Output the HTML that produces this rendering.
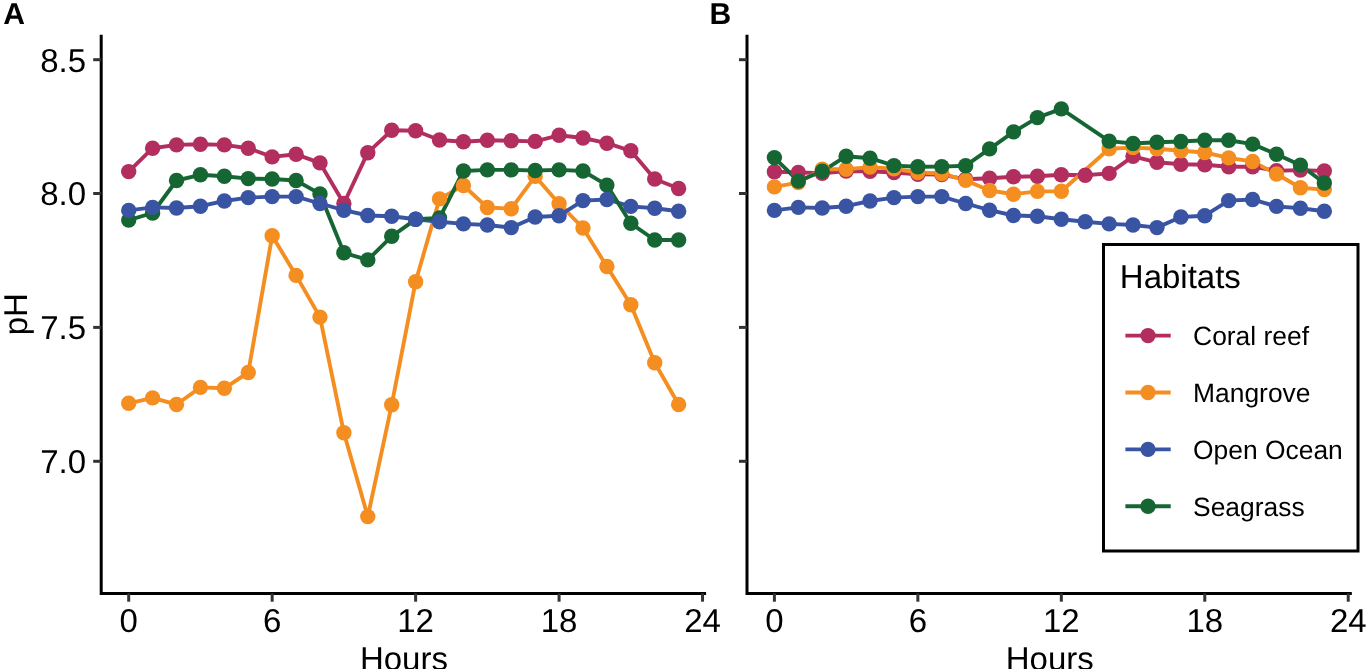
<!DOCTYPE html>
<html><head><meta charset="utf-8"><style>
html,body{margin:0;padding:0;background:#fff;}
body{width:1367px;height:669px;overflow:hidden;}
svg{display:block;will-change:transform;}
</style></head><body>
<svg width="1367" height="669" viewBox="0 0 1367 669">
<style>
text { font-family: "Liberation Sans", sans-serif; fill: #000; text-rendering: geometricPrecision; }
.tk { font-size: 33px; fill: #000; }
.tt { font-size: 33px; }
.lt { font-size: 33px; }
.ll { font-size: 26.4px; }
.pl { font-size: 30.1px; font-weight: bold; }
</style>
<rect width="1367" height="669" fill="#fff"/>
<text x="3.3" y="24" class="pl">A</text>
<text x="709.5" y="24.3" class="pl">B</text>
<text transform="translate(27,314.2) rotate(-90)" text-anchor="middle" class="tt">pH</text>
<path d="M101.2 36.2 V593.4 H704.6" fill="none" stroke="#000" stroke-width="3" stroke-linecap="square" stroke-linejoin="miter"/>
<line x1="93.2" y1="59.7" x2="101.2" y2="59.7" stroke="#333" stroke-width="3"/>
<text x="86" y="71.60000000000001" text-anchor="end" class="tk">8.5</text>
<line x1="93.2" y1="193.5" x2="101.2" y2="193.5" stroke="#333" stroke-width="3"/>
<text x="86" y="205.4" text-anchor="end" class="tk">8.0</text>
<line x1="93.2" y1="327.4" x2="101.2" y2="327.4" stroke="#333" stroke-width="3"/>
<text x="86" y="339.29999999999995" text-anchor="end" class="tk">7.5</text>
<line x1="93.2" y1="461.3" x2="101.2" y2="461.3" stroke="#333" stroke-width="3"/>
<text x="86" y="473.2" text-anchor="end" class="tk">7.0</text>
<line x1="128.7" y1="593.4" x2="128.7" y2="601.6999999999999" stroke="#333" stroke-width="3"/>
<text x="128.7" y="632.3" text-anchor="middle" class="tk">0</text>
<line x1="272.15999999999997" y1="593.4" x2="272.15999999999997" y2="601.6999999999999" stroke="#333" stroke-width="3"/>
<text x="272.15999999999997" y="632.3" text-anchor="middle" class="tk">6</text>
<line x1="415.62" y1="593.4" x2="415.62" y2="601.6999999999999" stroke="#333" stroke-width="3"/>
<text x="415.62" y="632.3" text-anchor="middle" class="tk">12</text>
<line x1="559.0799999999999" y1="593.4" x2="559.0799999999999" y2="601.6999999999999" stroke="#333" stroke-width="3"/>
<text x="559.0799999999999" y="632.3" text-anchor="middle" class="tk">18</text>
<line x1="702.54" y1="593.4" x2="702.54" y2="601.6999999999999" stroke="#333" stroke-width="3"/>
<text x="702.54" y="632.3" text-anchor="middle" class="tk">24</text>
<text x="403.9" y="669.5" text-anchor="middle" class="tt">Hours</text>
<path d="M747.0 36.2 V593.4 H1350.3" fill="none" stroke="#000" stroke-width="3" stroke-linecap="square" stroke-linejoin="miter"/>
<line x1="739.0" y1="59.7" x2="747.0" y2="59.7" stroke="#333" stroke-width="3"/>
<line x1="739.0" y1="193.5" x2="747.0" y2="193.5" stroke="#333" stroke-width="3"/>
<line x1="739.0" y1="327.4" x2="747.0" y2="327.4" stroke="#333" stroke-width="3"/>
<line x1="739.0" y1="461.3" x2="747.0" y2="461.3" stroke="#333" stroke-width="3"/>
<line x1="774.4" y1="593.4" x2="774.4" y2="601.6999999999999" stroke="#333" stroke-width="3"/>
<text x="774.4" y="632.3" text-anchor="middle" class="tk">0</text>
<line x1="917.86" y1="593.4" x2="917.86" y2="601.6999999999999" stroke="#333" stroke-width="3"/>
<text x="917.86" y="632.3" text-anchor="middle" class="tk">6</text>
<line x1="1061.32" y1="593.4" x2="1061.32" y2="601.6999999999999" stroke="#333" stroke-width="3"/>
<text x="1061.32" y="632.3" text-anchor="middle" class="tk">12</text>
<line x1="1204.78" y1="593.4" x2="1204.78" y2="601.6999999999999" stroke="#333" stroke-width="3"/>
<text x="1204.78" y="632.3" text-anchor="middle" class="tk">18</text>
<line x1="1348.24" y1="593.4" x2="1348.24" y2="601.6999999999999" stroke="#333" stroke-width="3"/>
<text x="1348.24" y="632.3" text-anchor="middle" class="tk">24</text>
<text x="1049.8" y="669.5" text-anchor="middle" class="tt">Hours</text>
<polyline fill="none" stroke="#B22E5E" stroke-width="3.9" stroke-linejoin="round" stroke-linecap="butt" points="128.7,171.6 152.61,148.2 176.52,144.9 200.43,144.2 224.34,144.9 248.25,148.2 272.16,156.9 296.07,154.3 319.98,162.9 343.89,203.5 367.8,152.7 391.71,130.3 415.62,130.8 439.53,140 463.44,141.8 487.35,140.3 511.26,140.7 535.17,141.4 559.08,135.3 582.99,138 606.9,143.2 630.81,150.8 654.72,179 678.63,188.5"/>
<polyline fill="none" stroke="#F58E20" stroke-width="3.9" stroke-linejoin="round" stroke-linecap="butt" points="128.7,403.3 152.61,397.9 176.52,404.5 200.43,387.4 224.34,388.3 248.25,372.5 272.16,235.8 296.07,275.4 319.98,317.1 343.89,432.8 367.8,516.6 391.71,404.8 415.62,281.7 439.53,198.9 463.44,185.5 487.35,207.5 511.26,208.7 535.17,176.3 559.08,203.7 582.99,228 606.9,266.5 630.81,304.7 654.72,362.7 678.63,404.5"/>
<polyline fill="none" stroke="#3A54A4" stroke-width="3.9" stroke-linejoin="round" stroke-linecap="butt" points="128.7,210.4 152.61,207.4 176.52,208 200.43,206.2 224.34,201 248.25,197.6 272.16,196.6 296.07,196.6 319.98,203.5 343.89,210.2 367.8,215.5 391.71,216.2 415.62,219.3 439.53,221.8 463.44,223.9 487.35,225 511.26,227.6 535.17,217 559.08,215.7 582.99,200.6 606.9,199.5 630.81,206.4 654.72,208.2 678.63,211.3"/>
<polyline fill="none" stroke="#166634" stroke-width="3.9" stroke-linejoin="round" stroke-linecap="butt" points="128.7,220.1 152.61,213 176.52,180.5 200.43,174.8 224.34,176.3 248.25,178.6 272.16,179 296.07,180.5 319.98,193.9 343.89,252.8 367.8,259.9 391.71,236.3 415.62,219.3 439.53,218 463.44,171 487.35,169.9 511.26,169.9 535.17,170.5 559.08,169.9 582.99,171 606.9,185.1 630.81,223.3 654.72,240 678.63,240"/>
<circle cx="128.7" cy="171.6" r="7.7" fill="#B22E5E"/><circle cx="152.61" cy="148.2" r="7.7" fill="#B22E5E"/><circle cx="176.52" cy="144.9" r="7.7" fill="#B22E5E"/><circle cx="200.43" cy="144.2" r="7.7" fill="#B22E5E"/><circle cx="224.34" cy="144.9" r="7.7" fill="#B22E5E"/><circle cx="248.25" cy="148.2" r="7.7" fill="#B22E5E"/><circle cx="272.16" cy="156.9" r="7.7" fill="#B22E5E"/><circle cx="296.07" cy="154.3" r="7.7" fill="#B22E5E"/><circle cx="319.98" cy="162.9" r="7.7" fill="#B22E5E"/><circle cx="343.89" cy="203.5" r="7.7" fill="#B22E5E"/><circle cx="367.8" cy="152.7" r="7.7" fill="#B22E5E"/><circle cx="391.71" cy="130.3" r="7.7" fill="#B22E5E"/><circle cx="415.62" cy="130.8" r="7.7" fill="#B22E5E"/><circle cx="439.53" cy="140" r="7.7" fill="#B22E5E"/><circle cx="463.44" cy="141.8" r="7.7" fill="#B22E5E"/><circle cx="487.35" cy="140.3" r="7.7" fill="#B22E5E"/><circle cx="511.26" cy="140.7" r="7.7" fill="#B22E5E"/><circle cx="535.17" cy="141.4" r="7.7" fill="#B22E5E"/><circle cx="559.08" cy="135.3" r="7.7" fill="#B22E5E"/><circle cx="582.99" cy="138" r="7.7" fill="#B22E5E"/><circle cx="606.9" cy="143.2" r="7.7" fill="#B22E5E"/><circle cx="630.81" cy="150.8" r="7.7" fill="#B22E5E"/><circle cx="654.72" cy="179" r="7.7" fill="#B22E5E"/><circle cx="678.63" cy="188.5" r="7.7" fill="#B22E5E"/>
<circle cx="128.7" cy="403.3" r="7.7" fill="#F58E20"/><circle cx="152.61" cy="397.9" r="7.7" fill="#F58E20"/><circle cx="176.52" cy="404.5" r="7.7" fill="#F58E20"/><circle cx="200.43" cy="387.4" r="7.7" fill="#F58E20"/><circle cx="224.34" cy="388.3" r="7.7" fill="#F58E20"/><circle cx="248.25" cy="372.5" r="7.7" fill="#F58E20"/><circle cx="272.16" cy="235.8" r="7.7" fill="#F58E20"/><circle cx="296.07" cy="275.4" r="7.7" fill="#F58E20"/><circle cx="319.98" cy="317.1" r="7.7" fill="#F58E20"/><circle cx="343.89" cy="432.8" r="7.7" fill="#F58E20"/><circle cx="367.8" cy="516.6" r="7.7" fill="#F58E20"/><circle cx="391.71" cy="404.8" r="7.7" fill="#F58E20"/><circle cx="415.62" cy="281.7" r="7.7" fill="#F58E20"/><circle cx="439.53" cy="198.9" r="7.7" fill="#F58E20"/><circle cx="463.44" cy="185.5" r="7.7" fill="#F58E20"/><circle cx="487.35" cy="207.5" r="7.7" fill="#F58E20"/><circle cx="511.26" cy="208.7" r="7.7" fill="#F58E20"/><circle cx="535.17" cy="176.3" r="7.7" fill="#F58E20"/><circle cx="559.08" cy="203.7" r="7.7" fill="#F58E20"/><circle cx="582.99" cy="228" r="7.7" fill="#F58E20"/><circle cx="606.9" cy="266.5" r="7.7" fill="#F58E20"/><circle cx="630.81" cy="304.7" r="7.7" fill="#F58E20"/><circle cx="654.72" cy="362.7" r="7.7" fill="#F58E20"/><circle cx="678.63" cy="404.5" r="7.7" fill="#F58E20"/>
<circle cx="128.7" cy="220.1" r="7.7" fill="#166634"/><circle cx="152.61" cy="213" r="7.7" fill="#166634"/><circle cx="176.52" cy="180.5" r="7.7" fill="#166634"/><circle cx="200.43" cy="174.8" r="7.7" fill="#166634"/><circle cx="224.34" cy="176.3" r="7.7" fill="#166634"/><circle cx="248.25" cy="178.6" r="7.7" fill="#166634"/><circle cx="272.16" cy="179" r="7.7" fill="#166634"/><circle cx="296.07" cy="180.5" r="7.7" fill="#166634"/><circle cx="319.98" cy="193.9" r="7.7" fill="#166634"/><circle cx="343.89" cy="252.8" r="7.7" fill="#166634"/><circle cx="367.8" cy="259.9" r="7.7" fill="#166634"/><circle cx="391.71" cy="236.3" r="7.7" fill="#166634"/><circle cx="415.62" cy="219.3" r="7.7" fill="#166634"/><circle cx="439.53" cy="218" r="7.7" fill="#166634"/><circle cx="463.44" cy="171" r="7.7" fill="#166634"/><circle cx="487.35" cy="169.9" r="7.7" fill="#166634"/><circle cx="511.26" cy="169.9" r="7.7" fill="#166634"/><circle cx="535.17" cy="170.5" r="7.7" fill="#166634"/><circle cx="559.08" cy="169.9" r="7.7" fill="#166634"/><circle cx="582.99" cy="171" r="7.7" fill="#166634"/><circle cx="606.9" cy="185.1" r="7.7" fill="#166634"/><circle cx="630.81" cy="223.3" r="7.7" fill="#166634"/><circle cx="654.72" cy="240" r="7.7" fill="#166634"/><circle cx="678.63" cy="240" r="7.7" fill="#166634"/>
<circle cx="128.7" cy="210.4" r="7.7" fill="#3A54A4"/><circle cx="152.61" cy="207.4" r="7.7" fill="#3A54A4"/><circle cx="176.52" cy="208" r="7.7" fill="#3A54A4"/><circle cx="200.43" cy="206.2" r="7.7" fill="#3A54A4"/><circle cx="224.34" cy="201" r="7.7" fill="#3A54A4"/><circle cx="248.25" cy="197.6" r="7.7" fill="#3A54A4"/><circle cx="272.16" cy="196.6" r="7.7" fill="#3A54A4"/><circle cx="296.07" cy="196.6" r="7.7" fill="#3A54A4"/><circle cx="319.98" cy="203.5" r="7.7" fill="#3A54A4"/><circle cx="343.89" cy="210.2" r="7.7" fill="#3A54A4"/><circle cx="367.8" cy="215.5" r="7.7" fill="#3A54A4"/><circle cx="391.71" cy="216.2" r="7.7" fill="#3A54A4"/><circle cx="415.62" cy="219.3" r="7.7" fill="#3A54A4"/><circle cx="439.53" cy="221.8" r="7.7" fill="#3A54A4"/><circle cx="463.44" cy="223.9" r="7.7" fill="#3A54A4"/><circle cx="487.35" cy="225" r="7.7" fill="#3A54A4"/><circle cx="511.26" cy="227.6" r="7.7" fill="#3A54A4"/><circle cx="535.17" cy="217" r="7.7" fill="#3A54A4"/><circle cx="559.08" cy="215.7" r="7.7" fill="#3A54A4"/><circle cx="582.99" cy="200.6" r="7.7" fill="#3A54A4"/><circle cx="606.9" cy="199.5" r="7.7" fill="#3A54A4"/><circle cx="630.81" cy="206.4" r="7.7" fill="#3A54A4"/><circle cx="654.72" cy="208.2" r="7.7" fill="#3A54A4"/><circle cx="678.63" cy="211.3" r="7.7" fill="#3A54A4"/>
<polyline fill="none" stroke="#B22E5E" stroke-width="3.9" stroke-linejoin="round" stroke-linecap="butt" points="774.4,171.7 798.31,172.4 822.22,173.3 846.13,171.1 870.04,171.2 893.95,172.5 917.86,174.3 941.77,174.6 965.68,179.3 989.59,178.3 1013.5,176.8 1037.41,176.3 1061.32,174.8 1085.23,175.3 1109.14,173.4 1133.05,156.3 1156.96,162.3 1180.87,164.2 1204.78,164.8 1228.69,166.7 1252.6,166.7 1276.51,170.8 1300.42,170.1 1324.33,171"/>
<polyline fill="none" stroke="#F58E20" stroke-width="3.9" stroke-linejoin="round" stroke-linecap="butt" points="774.4,186.9 798.31,182.6 822.22,169.3 846.13,169.2 870.04,167.1 893.95,168.8 917.86,172.5 941.77,173.5 965.68,180.4 989.59,190.5 1013.5,194.2 1037.41,191.4 1061.32,191.2 1109.14,148.8 1133.05,147.6 1156.96,148.8 1180.87,150.7 1204.78,152.5 1228.69,157.9 1252.6,161.5 1276.51,174 1300.42,187.8 1324.33,189.6"/>
<polyline fill="none" stroke="#3A54A4" stroke-width="3.9" stroke-linejoin="round" stroke-linecap="butt" points="774.4,210.4 798.31,207.4 822.22,208 846.13,206.2 870.04,201 893.95,197.6 917.86,196.6 941.77,196.6 965.68,203.5 989.59,210.2 1013.5,215.5 1037.41,216.2 1061.32,219.3 1085.23,221.8 1109.14,223.9 1133.05,225 1156.96,227.6 1180.87,217 1204.78,215.7 1228.69,200.6 1252.6,199.5 1276.51,206.4 1300.42,208.2 1324.33,211.3"/>
<polyline fill="none" stroke="#166634" stroke-width="3.9" stroke-linejoin="round" stroke-linecap="butt" points="774.4,157.6 798.31,181.1 822.22,171.3 846.13,156.2 870.04,158.2 893.95,165.6 917.86,166.8 941.77,166.6 965.68,165.7 989.59,148.9 1013.5,131.9 1037.41,117.6 1061.32,108.9 1109.14,141.1 1133.05,143.5 1156.96,142.3 1180.87,141.5 1204.78,140.3 1228.69,140.3 1252.6,144.1 1276.51,154.3 1300.42,165.1 1324.33,183"/>
<circle cx="774.4" cy="171.7" r="7.7" fill="#B22E5E"/><circle cx="798.31" cy="172.4" r="7.7" fill="#B22E5E"/><circle cx="822.22" cy="173.3" r="7.7" fill="#B22E5E"/><circle cx="846.13" cy="171.1" r="7.7" fill="#B22E5E"/><circle cx="870.04" cy="171.2" r="7.7" fill="#B22E5E"/><circle cx="893.95" cy="172.5" r="7.7" fill="#B22E5E"/><circle cx="917.86" cy="174.3" r="7.7" fill="#B22E5E"/><circle cx="941.77" cy="174.6" r="7.7" fill="#B22E5E"/><circle cx="965.68" cy="179.3" r="7.7" fill="#B22E5E"/><circle cx="989.59" cy="178.3" r="7.7" fill="#B22E5E"/><circle cx="1013.5" cy="176.8" r="7.7" fill="#B22E5E"/><circle cx="1037.41" cy="176.3" r="7.7" fill="#B22E5E"/><circle cx="1061.32" cy="174.8" r="7.7" fill="#B22E5E"/><circle cx="1085.23" cy="175.3" r="7.7" fill="#B22E5E"/><circle cx="1109.14" cy="173.4" r="7.7" fill="#B22E5E"/><circle cx="1133.05" cy="156.3" r="7.7" fill="#B22E5E"/><circle cx="1156.96" cy="162.3" r="7.7" fill="#B22E5E"/><circle cx="1180.87" cy="164.2" r="7.7" fill="#B22E5E"/><circle cx="1204.78" cy="164.8" r="7.7" fill="#B22E5E"/><circle cx="1228.69" cy="166.7" r="7.7" fill="#B22E5E"/><circle cx="1252.6" cy="166.7" r="7.7" fill="#B22E5E"/><circle cx="1276.51" cy="170.8" r="7.7" fill="#B22E5E"/><circle cx="1300.42" cy="170.1" r="7.7" fill="#B22E5E"/><circle cx="1324.33" cy="171" r="7.7" fill="#B22E5E"/>
<circle cx="774.4" cy="186.9" r="7.7" fill="#F58E20"/><circle cx="798.31" cy="182.6" r="7.7" fill="#F58E20"/><circle cx="822.22" cy="169.3" r="7.7" fill="#F58E20"/><circle cx="846.13" cy="169.2" r="7.7" fill="#F58E20"/><circle cx="870.04" cy="167.1" r="7.7" fill="#F58E20"/><circle cx="893.95" cy="168.8" r="7.7" fill="#F58E20"/><circle cx="917.86" cy="172.5" r="7.7" fill="#F58E20"/><circle cx="941.77" cy="173.5" r="7.7" fill="#F58E20"/><circle cx="965.68" cy="180.4" r="7.7" fill="#F58E20"/><circle cx="989.59" cy="190.5" r="7.7" fill="#F58E20"/><circle cx="1013.5" cy="194.2" r="7.7" fill="#F58E20"/><circle cx="1037.41" cy="191.4" r="7.7" fill="#F58E20"/><circle cx="1061.32" cy="191.2" r="7.7" fill="#F58E20"/><circle cx="1109.14" cy="148.8" r="7.7" fill="#F58E20"/><circle cx="1133.05" cy="147.6" r="7.7" fill="#F58E20"/><circle cx="1156.96" cy="148.8" r="7.7" fill="#F58E20"/><circle cx="1180.87" cy="150.7" r="7.7" fill="#F58E20"/><circle cx="1204.78" cy="152.5" r="7.7" fill="#F58E20"/><circle cx="1228.69" cy="157.9" r="7.7" fill="#F58E20"/><circle cx="1252.6" cy="161.5" r="7.7" fill="#F58E20"/><circle cx="1276.51" cy="174" r="7.7" fill="#F58E20"/><circle cx="1300.42" cy="187.8" r="7.7" fill="#F58E20"/><circle cx="1324.33" cy="189.6" r="7.7" fill="#F58E20"/>
<circle cx="774.4" cy="157.6" r="7.7" fill="#166634"/><circle cx="798.31" cy="181.1" r="7.7" fill="#166634"/><circle cx="822.22" cy="171.3" r="7.7" fill="#166634"/><circle cx="846.13" cy="156.2" r="7.7" fill="#166634"/><circle cx="870.04" cy="158.2" r="7.7" fill="#166634"/><circle cx="893.95" cy="165.6" r="7.7" fill="#166634"/><circle cx="917.86" cy="166.8" r="7.7" fill="#166634"/><circle cx="941.77" cy="166.6" r="7.7" fill="#166634"/><circle cx="965.68" cy="165.7" r="7.7" fill="#166634"/><circle cx="989.59" cy="148.9" r="7.7" fill="#166634"/><circle cx="1013.5" cy="131.9" r="7.7" fill="#166634"/><circle cx="1037.41" cy="117.6" r="7.7" fill="#166634"/><circle cx="1061.32" cy="108.9" r="7.7" fill="#166634"/><circle cx="1109.14" cy="141.1" r="7.7" fill="#166634"/><circle cx="1133.05" cy="143.5" r="7.7" fill="#166634"/><circle cx="1156.96" cy="142.3" r="7.7" fill="#166634"/><circle cx="1180.87" cy="141.5" r="7.7" fill="#166634"/><circle cx="1204.78" cy="140.3" r="7.7" fill="#166634"/><circle cx="1228.69" cy="140.3" r="7.7" fill="#166634"/><circle cx="1252.6" cy="144.1" r="7.7" fill="#166634"/><circle cx="1276.51" cy="154.3" r="7.7" fill="#166634"/><circle cx="1300.42" cy="165.1" r="7.7" fill="#166634"/><circle cx="1324.33" cy="183" r="7.7" fill="#166634"/>
<circle cx="774.4" cy="210.4" r="7.7" fill="#3A54A4"/><circle cx="798.31" cy="207.4" r="7.7" fill="#3A54A4"/><circle cx="822.22" cy="208" r="7.7" fill="#3A54A4"/><circle cx="846.13" cy="206.2" r="7.7" fill="#3A54A4"/><circle cx="870.04" cy="201" r="7.7" fill="#3A54A4"/><circle cx="893.95" cy="197.6" r="7.7" fill="#3A54A4"/><circle cx="917.86" cy="196.6" r="7.7" fill="#3A54A4"/><circle cx="941.77" cy="196.6" r="7.7" fill="#3A54A4"/><circle cx="965.68" cy="203.5" r="7.7" fill="#3A54A4"/><circle cx="989.59" cy="210.2" r="7.7" fill="#3A54A4"/><circle cx="1013.5" cy="215.5" r="7.7" fill="#3A54A4"/><circle cx="1037.41" cy="216.2" r="7.7" fill="#3A54A4"/><circle cx="1061.32" cy="219.3" r="7.7" fill="#3A54A4"/><circle cx="1085.23" cy="221.8" r="7.7" fill="#3A54A4"/><circle cx="1109.14" cy="223.9" r="7.7" fill="#3A54A4"/><circle cx="1133.05" cy="225" r="7.7" fill="#3A54A4"/><circle cx="1156.96" cy="227.6" r="7.7" fill="#3A54A4"/><circle cx="1180.87" cy="217" r="7.7" fill="#3A54A4"/><circle cx="1204.78" cy="215.7" r="7.7" fill="#3A54A4"/><circle cx="1228.69" cy="200.6" r="7.7" fill="#3A54A4"/><circle cx="1252.6" cy="199.5" r="7.7" fill="#3A54A4"/><circle cx="1276.51" cy="206.4" r="7.7" fill="#3A54A4"/><circle cx="1300.42" cy="208.2" r="7.7" fill="#3A54A4"/><circle cx="1324.33" cy="211.3" r="7.7" fill="#3A54A4"/>
<rect x="1103.5" y="244.5" width="254.5" height="306.5" fill="#fff" stroke="#000" stroke-width="3"/><text x="1119.8" y="287.6" class="lt">Habitats</text><line x1="1125.4" y1="335.6" x2="1170.7" y2="335.6" stroke="#B22E5E" stroke-width="3.9"/><circle cx="1148" cy="335.6" r="7.7" fill="#B22E5E"/><text x="1193.1" y="345.1" class="ll">Coral reef</text><line x1="1125.4" y1="392.5" x2="1170.7" y2="392.5" stroke="#F58E20" stroke-width="3.9"/><circle cx="1148" cy="392.5" r="7.7" fill="#F58E20"/><text x="1193.1" y="402.0" class="ll">Mangrove</text><line x1="1125.4" y1="449.40000000000003" x2="1170.7" y2="449.40000000000003" stroke="#3A54A4" stroke-width="3.9"/><circle cx="1148" cy="449.40000000000003" r="7.7" fill="#3A54A4"/><text x="1193.1" y="458.90000000000003" class="ll">Open Ocean</text><line x1="1125.4" y1="506.3" x2="1170.7" y2="506.3" stroke="#166634" stroke-width="3.9"/><circle cx="1148" cy="506.3" r="7.7" fill="#166634"/><text x="1193.1" y="515.8" class="ll">Seagrass</text>
</svg>
</body></html>
